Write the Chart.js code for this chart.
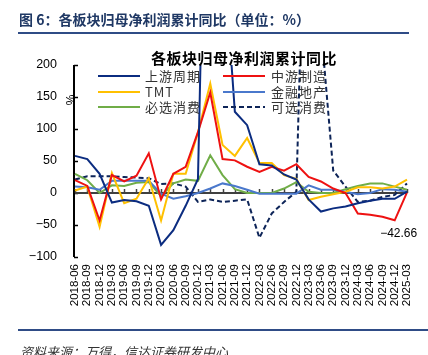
<!DOCTYPE html>
<html><head><meta charset="utf-8">
<script src="https://cdn.jsdelivr.net/npm/chart.js@4/dist/chart.umd.min.js"></script>
<style>html,body{margin:0;padding:0;background:#fff;}#wrap{width:428px;height:355px;}</style>
</head><body><div id="wrap"><canvas id="c" width="428" height="355"></canvas></div>
<script>
const categories = ['2018-06','2018-09','2018-12','2019-03','2019-06','2019-09','2019-12','2020-03','2020-06','2020-09','2020-12','2021-03','2021-06','2021-09','2021-12','2022-03','2022-06','2022-09','2022-12','2023-03','2023-06','2023-09','2023-12','2024-03','2024-06','2024-09','2024-12','2025-03'];
const seriesNames = ['上游周期','中游制造','TMT','金融地产','必选消费','可选消费'];
const upstream   = [58, 53, 30, -15, -11, -13, -20, -81, -58, -20, 22, 900, 400, 127, 106, 45, 43, 29, 21, -10, -29, -24, -21, -16, -12, -9, -9, 2];
const midstream  = [20, 11, -43, 28, 18, 27, 62, -10, 30, 41, 95, 157, 53, 51, 41, 33, 41, 35, 45, 25, 18, 7, 0, -32, -34, -37, -42.66, 1];
const tmt        = [4, 10, -53, 31, -16, -9, 23, -43, 30, 30, 95, 171, 75, 58, 86, 47, 47, 28, 22, -11, -6, -2, 2, 9, 9, 7, 10, 21];
const finance    = [10, 9, 5, 19, 19, 19, 19, -1, -9, -5, 0, 7, 15, 11, 5, -1, -1, -1, -1, 12, 5, 5, 2, -2, 0, 6, 5, 2];
const staples    = [30, 20, 0, 12, 11, 16, 17, -5, 15, 21, 19, 59, 28, 6, 0, 0, 0, 7, 17, 2, 0, 0, 6, 11, 15, 15, 10, 5];
const discretionary = [21, 26, 26, 26, 25, 24, 23, 14, 15, 10, -14, -10, -14, -12, -10, -70, -32, -14, 2, 700, 260, 35, 10, -14, -12, -6, -3, 15];
const yMin = -100, yMax = 200, yStep = 50;
const labelIndex = 26;

const colors = ['#0B2C80','#EE1111','#FFC000','#4A78CC','#70AD47','#0D2458'];
const seriesData = [upstream, midstream, tmt, finance, staples, discretionary];

const datasets = seriesNames.map((n,i)=>({
  label:n, data:seriesData[i], borderColor:colors[i], backgroundColor:colors[i],
  borderWidth:2, pointRadius:0, tension:0, fill:false,
  borderDash: i===5 ? [5,3] : []
}));

const fmtMinus = v => (v<0 ? '\u2212'+Math.abs(v) : ''+v);

const deco = {
  id:'deco',
  beforeDraw(chart){
    const c=chart.ctx; c.save(); c.fillStyle='#fff'; c.fillRect(0,0,chart.width,chart.height); c.restore();
  },
  beforeDatasetsDraw(chart){
    const c=chart.ctx, x=chart.scales.x, y=chart.scales.y, a=chart.chartArea;
    c.save();
    // y axis line + inner ticks
    c.strokeStyle='#000'; c.lineWidth=2;
    c.beginPath(); c.moveTo(a.left-1,a.top); c.lineTo(a.left-1,a.bottom); c.stroke();
    c.lineWidth=1.5;
    for(let v=yMin; v<=yMax; v+=yStep){ const py=Math.round(y.getPixelForValue(v))+0.5; c.beginPath(); c.moveTo(a.left-1,py); c.lineTo(a.left+3,py); c.stroke(); }
    // zero axis line + ticks
    const y0=y.getPixelForValue(0);
    c.strokeStyle='#404040'; c.lineWidth=2;
    c.beginPath(); c.moveTo(a.left,y0); c.lineTo(a.right,y0); c.stroke();
    c.lineWidth=1.5;
    categories.forEach((_,i)=>{ const px=Math.round(x.getPixelForValue(i))+0.5; c.beginPath(); c.moveTo(px,y0); c.lineTo(px,y0-4); c.stroke(); });
    c.restore();
  },
  afterDraw(chart){
    const c=chart.ctx, x=chart.scales.x, y=chart.scales.y, a=chart.chartArea;
    c.save();
    // header
    c.fillStyle='#1F3864'; c.font='bold 14px "Noto Sans CJK SC"'; c.textBaseline='middle'; c.textAlign='left';
    c.fillText('图 6：各板块归母净利润累计同比（单位：%）',19,20);
    c.fillStyle='#2F4C86'; c.fillRect(18,32,391,2);
    // footer
    c.fillRect(18,329,410,2);
    c.fillStyle='#333'; c.font='italic 13px "Noto Sans CJK SC"'; c.textBaseline='top';
    c.fillText('资料来源：万得，信达证券研发中心',20,346);
    // chart title
    c.fillStyle='#000'; c.font='bold 15px "Noto Sans CJK SC"'; c.textAlign='center'; c.textBaseline='middle';
    c.letterSpacing='0.5px';
    c.fillText('各板块归母净利润累计同比',244,58);
    c.letterSpacing='0px';
    // % axis title
    c.save(); c.translate(72,100); c.rotate(-Math.PI/2); c.font='12px "Liberation Sans"'; c.fillStyle='#000'; c.textAlign='center'; c.textBaseline='middle'; c.fillText('%',0,0); c.restore();
    // legend
    const cols=[[98,140,145],[223,265,271]], rows=[76,92,107];
    c.font='13px "Noto Sans CJK SC"'; c.textAlign='left'; c.textBaseline='middle'; c.letterSpacing='1px';
    seriesNames.forEach((n,i)=>{
      const col=cols[i%2], ry=rows[Math.floor(i/2)];
      c.strokeStyle=colors[i]; c.lineWidth=2; c.setLineDash(i===5?[5,3]:[]);
      c.beginPath(); c.moveTo(col[0],ry); c.lineTo(col[1],ry); c.stroke();
      c.setLineDash([]);
      c.fillStyle='#333'; c.fillText(n,col[2],ry);
    });
    c.letterSpacing='0px';
    // data label
    const px=x.getPixelForValue(labelIndex), py=y.getPixelForValue(midstream[labelIndex]);
    c.fillStyle='#000'; c.font='12px "Liberation Sans"'; c.textAlign='center'; c.textBaseline='middle';
    c.fillText(fmtMinus(midstream[labelIndex]), px+4, py+13);
    c.restore();
  }
};

new Chart(document.getElementById('c'),{
  type:'line',
  data:{labels:categories, datasets},
  options:{
    responsive:false, animation:false, devicePixelRatio:1,
    layout:{padding:{top:65,right:21,left:0,bottom:0}},
    plugins:{legend:{display:false}, tooltip:{enabled:false}, title:{display:false}},
    scales:{
      x:{type:'category', offset:false, grid:{display:false, drawTicks:false}, border:{display:false},
         ticks:{autoSkip:false, maxRotation:90, minRotation:90, padding:7, color:'#000', font:{family:'Liberation Sans', size:11.5}},
         afterFit(s){ s.height=98; }},
      y:{min:yMin, max:yMax, grid:{display:false, drawTicks:false}, border:{display:false},
         ticks:{stepSize:yStep, padding:18, color:'#000', font:{family:'Liberation Sans', size:12.5}, callback:v=>fmtMinus(v)},
         afterFit(s){ s.width=75; }}
    }
  },
  plugins:[deco]
});
</script>
</body></html>
